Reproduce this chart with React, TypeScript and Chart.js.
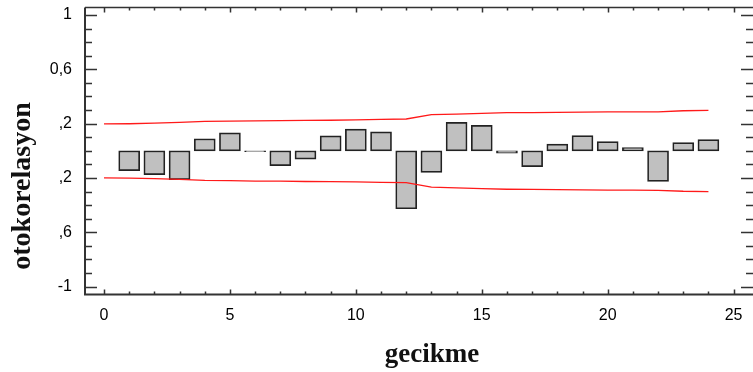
import React, { useEffect, useRef } from "react";
import { Chart, registerables } from "chart.js";

Chart.register(...registerables);

// ---- data ----
const lags = [1, 2, 3, 4, 5, 6, 7, 8, 9, 10, 11, 12, 13, 14, 15, 16, 17, 18, 19, 20, 21, 22, 23, 24];
const acf = [
  -0.146, -0.176, -0.212, 0.088, 0.132, -0.006, -0.11, -0.061, 0.11, 0.159, 0.139, -0.427,
  -0.159, 0.21, 0.188, -0.017, -0.117, 0.049, 0.112, 0.068, 0.024, -0.225, 0.061, 0.083,
];
const boundLags = [0, 1, 2, 3, 4, 5, 6, 7, 8, 9, 10, 11, 12, 13, 14, 15, 16, 17, 18, 19, 20, 21, 22, 23, 24];
const upperBound = [
  0.198, 0.199, 0.203, 0.209, 0.216, 0.218, 0.221, 0.222, 0.224, 0.225, 0.227, 0.231, 0.234,
  0.266, 0.27, 0.276, 0.281, 0.281, 0.283, 0.284, 0.286, 0.287, 0.287, 0.295, 0.297,
];
const lowerBound = [
  -0.2, -0.201, -0.205, -0.211, -0.218, -0.22, -0.223, -0.224, -0.226, -0.227, -0.229, -0.232, -0.235,
  -0.268, -0.273, -0.279, -0.283, -0.284, -0.286, -0.287, -0.289, -0.29, -0.291, -0.298, -0.3,
];
const xTicks = [0, 5, 10, 15, 20, 25];
const yTicks = [1, 0.6, 0.2, -0.2, -0.6, -1];
const yTickLabels = ["1", "0,6", ",2", ",2", ",6", "-1"];
const xTitle = "gecikme";
const yTitle = "otokorelasyon";

const framePlugin = {
  id: "frame",
  afterDraw(chart: any) {
    const { ctx, chartArea: a, scales } = chart;
    const xs = scales.x;
    const ys = scales.y;
    ctx.save();
    ctx.strokeStyle = "#333";
    ctx.lineWidth = 1.5;
    // frame
    ctx.beginPath();
    ctx.moveTo(a.left, a.top);
    ctx.lineTo(a.right, a.top);
    ctx.stroke();
    ctx.lineWidth = 2;
    ctx.beginPath();
    ctx.moveTo(a.left, a.top);
    ctx.lineTo(a.left, a.bottom);
    ctx.lineTo(a.right, a.bottom);
    ctx.stroke();
    // y ticks (left and right, inward)
    ctx.lineWidth = 1.5;
    for (let i = -10; i <= 10; i++) {
      const py = Math.round(ys.getPixelForValue(i / 10)) + 0.5;
      const major = (i + 10) % 4 === 0;
      const len = major ? 12 : 7;
      ctx.beginPath();
      ctx.moveTo(a.left, py);
      ctx.lineTo(a.left + len, py);
      ctx.moveTo(a.right, py);
      ctx.lineTo(a.right - len, py);
      ctx.stroke();
    }
    // x ticks (bottom and top, inward)
    for (let v = 0; v <= 25; v++) {
      const px = Math.round(xs.getPixelForValue(v)) + 0.5;
      const major = v % 5 === 0;
      const len = major ? 5 : 3;
      ctx.beginPath();
      ctx.moveTo(px, a.bottom);
      ctx.lineTo(px, a.bottom - len);
      ctx.moveTo(px, a.top);
      ctx.lineTo(px, a.top + len);
      ctx.stroke();
    }
    // titles
    ctx.fillStyle = "#111";
    ctx.font = 'bold 27px "Liberation Serif", "DejaVu Serif", serif';
    ctx.textAlign = "center";
    ctx.textBaseline = "alphabetic";
    ctx.fillText(xTitle, 432, 362);
    ctx.translate(30, 186);
    ctx.rotate(-Math.PI / 2);
    ctx.font = 'bold 28px "Liberation Serif", "DejaVu Serif", serif';
    ctx.fillText(yTitle, 0, 0);
    ctx.restore();
  },
};

export default function App() {
  const ref = useRef<HTMLCanvasElement | null>(null);

  useEffect(() => {
    document.body.style.margin = "0";
    const canvas = ref.current;
    if (!canvas) return;
    const chart = new Chart(canvas, {
      type: "bar",
      data: {
        datasets: [
          {
            type: "line",
            data: boundLags.map((x, i) => ({ x, y: upperBound[i] })),
            borderColor: "#ff1a1a",
            borderWidth: 1.3,
            pointRadius: 0,
            tension: 0,
            fill: false,
          } as any,
          {
            type: "line",
            data: boundLags.map((x, i) => ({ x, y: lowerBound[i] })),
            borderColor: "#ff1a1a",
            borderWidth: 1.3,
            pointRadius: 0,
            tension: 0,
            fill: false,
          } as any,
          {
            type: "bar",
            data: lags.map((x, i) => ({ x, y: acf[i] })),
            backgroundColor: "#c0c0c0",
            borderColor: "#222",
            borderWidth: 1.7,
            borderSkipped: false,
            barThickness: 21,
          } as any,
        ],
      },
      options: {
        responsive: false,
        animation: false,
        layout: { padding: { top: 7.5, left: 0, right: 0, bottom: 0 } },
        plugins: { legend: { display: false }, tooltip: { enabled: false }, title: { display: false } },
        scales: {
          x: {
            type: "linear",
            offset: false,
            min: -0.755,
            max: 25.77,
            grid: { display: false, drawTicks: false },
            border: { display: false },
            afterBuildTicks: (s: any) => {
              s.ticks = xTicks.map((v) => ({ value: v }));
            },
            afterFit: (s: any) => {
              s.height = 77.5;
              s.paddingLeft = 0;
              s.paddingRight = 0;
              s.paddingTop = 0;
              s.paddingBottom = 0;
            },
            ticks: {
              padding: 11,
              maxRotation: 0,
              autoSkip: false,
              color: "#000",
              font: { family: '"Liberation Sans", Arial, sans-serif', size: 16 },
            },
          },
          y: {
            type: "linear",
            min: -1.058,
            max: 1.055,
            grid: { display: false, drawTicks: false },
            border: { display: false },
            afterBuildTicks: (s: any) => {
              s.ticks = yTicks.map((v) => ({ value: v }));
            },
            afterFit: (s: any) => {
              s.width = 85;
              s.paddingLeft = 0;
              s.paddingRight = 0;
              s.paddingTop = 0;
              s.paddingBottom = 0;
            },
            ticks: {
              padding: 13,
              autoSkip: false,
              color: "#000",
              font: { family: '"Liberation Sans", Arial, sans-serif', size: 16 },
              callback: (_v: any, i: number) => yTickLabels[i],
            },
          },
        },
      },
      plugins: [framePlugin],
    });
    return () => chart.destroy();
  }, []);

  return <canvas ref={ref} width={753} height={372} style={{ display: "block" }} />;
}
